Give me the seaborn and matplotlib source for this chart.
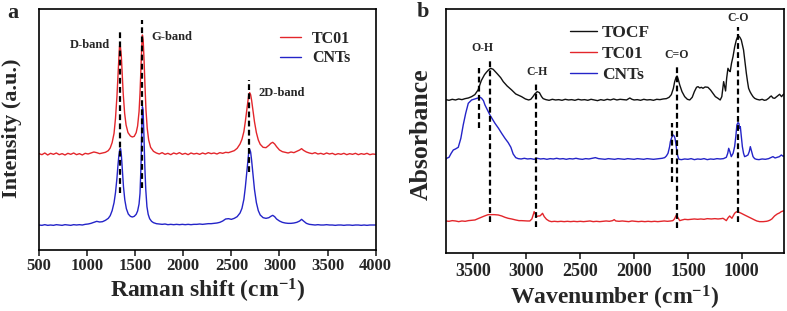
import matplotlib
matplotlib.use("Agg")
import matplotlib.pyplot as plt
import pandas as pd
import seaborn as sns

# ---------------- data : panel a (Raman) ----------------
raman_tc01 = [(500,289),(530,286),(560,291),(590,285),(620,290),(650,287),(680,291),(710,286),(740,289),(770,285),
 (800,290),(830,287),(860,291),(890,286),(920,289),(950,285),(980,290),(1010,288),(1040,291),(1070,294),(1100,292),
 (1130,289),(1160,291),(1190,293),(1220,298),(1240,306),(1260,322),(1280,350),(1295,395),(1310,460),(1320,520),
 (1330,575),(1337,612),(1345,612),(1355,585),(1365,530),(1375,470),(1390,410),(1405,375),(1425,352),(1450,342),
 (1470,339),(1490,341),(1510,352),(1525,372),(1540,415),(1550,470),(1560,545),(1568,610),(1575,645),(1583,630),
 (1592,570),(1602,490),(1612,420),(1625,365),(1640,330),(1660,308),(1690,296),(1720,291),(1750,288),(1780,292),
 (1810,287),(1840,290),(1870,286),(1900,291),(1930,288),(1960,292),(1990,287),(2020,290),(2050,286),(2080,291),
 (2110,288),(2140,290),(2170,287),(2200,291),(2230,288),(2260,292),(2290,289),(2320,291),(2350,288),(2380,292),
 (2410,290),(2440,293),(2470,292),(2500,295),(2530,298),(2560,305),(2590,318),(2610,332),(2630,355),(2645,385),
 (2660,420),(2670,445),(2680,465),(2690,472),(2700,466),(2710,450),(2725,418),(2740,385),(2760,352),(2780,330),
 (2800,317),(2830,308),(2860,307),(2890,314),(2910,320),(2930,323),(2950,318),(2970,310),(3000,300),(3030,295),
 (3060,293),(3090,291),(3120,294),(3150,292),(3180,296),(3210,300),(3230,304),(3250,299),(3280,294),(3310,291),
 (3340,289),(3370,292),(3400,288),(3430,290),(3460,287),(3490,291),(3520,288),(3550,290),(3580,286),(3610,289),
 (3640,287),(3670,290),(3700,286),(3730,289),(3760,287),(3790,290),(3820,286),(3850,289),(3880,287),(3910,290),
 (3940,286),(3970,288),(4000,287)]

raman_cnts = [(500,75),(530,74),(560,76),(590,74),(620,75),(650,74),(680,76),(710,75),(740,74),(770,76),(800,75),
 (830,74),(860,76),(890,75),(920,76),(950,75),(980,77),(1010,78),(1040,80),(1070,83),(1100,86),(1130,84),(1160,85),
 (1190,89),(1220,95),(1240,103),(1260,118),(1280,142),(1295,172),(1310,215),(1320,252),(1330,283),(1340,302),
 (1348,304),(1356,285),(1366,240),(1378,190),(1392,150),(1408,124),(1428,108),(1450,101),(1470,99),(1490,101),
 (1510,107),(1525,117),(1540,138),(1550,170),(1560,250),(1568,360),(1575,430),(1582,420),(1590,350),(1600,250),
 (1610,180),(1622,130),(1635,107),(1650,94),(1670,86),(1690,82),(1720,79),(1750,78),(1780,77),(1810,78),(1840,76),
 (1870,77),(1900,76),(1930,77),(1960,76),(1990,77),(2020,76),(2050,77),(2080,76),(2110,77),(2140,77),(2170,78),
 (2200,77),(2230,78),(2260,79),(2290,79),(2320,80),(2350,81),(2380,83),(2410,87),(2440,93),(2470,94),(2500,92),
 (2530,95),(2560,100),(2590,111),(2610,125),(2630,152),(2645,188),(2660,232),(2670,264),(2680,292),(2690,302),
 (2700,294),(2710,270),(2725,227),(2740,182),(2760,142),(2780,118),(2800,105),(2830,97),(2860,95),(2890,97),
 (2910,101),(2930,104),(2950,100),(2970,93),(3000,87),(3030,83),(3060,81),(3090,80),(3120,80),(3150,81),(3180,83),
 (3210,87),(3230,92),(3250,87),(3280,80),(3310,77),(3340,76),(3370,75),(3400,76),(3430,75),(3460,75),(3490,76),
 (3520,75),(3550,75),(3580,74),(3610,75),(3640,75),(3670,74),(3700,75),(3730,75),(3760,74),(3790,75),(3820,75),
 (3850,74),(3880,75),(3910,74),(3940,75),(3970,75),(4000,75)]

raman_peak_pos = [1340, 1575, 2685]
raman_peak_lo = [172, 185, 235]
raman_peak_hi = [658, 690, 510]
raman_labels = ["D-band", "G-band", "2D-band"]
raman_label_x = [1030, 1876, 3023]
raman_label_y = [615, 638, 472]
raman_ticks = [500, 1000, 1500, 2000, 2500, 3000, 3500, 4000]

# ---------------- data : panel b (FTIR) ----------------
ftir_tocf = [(3750,461),(3720,459),(3690,462),(3660,460),(3630,463),(3600,461),(3570,464),(3540,466),(3510,470),
 (3480,476),(3450,490),(3420,518),(3390,536),(3370,544),(3350,551),(3333,555),(3310,552),(3290,545),(3270,538),
 (3240,527),(3216,515),(3180,502),(3138,490),(3100,478),(3046,470),(3010,463),(2980,460),(2960,462),(2940,470),
 (2923,478),(2900,485),(2880,482),(2860,470),(2845,464),(2820,461),(2790,459),(2760,462),(2730,460),(2700,461),
 (2670,459),(2640,462),(2610,460),(2580,461),(2550,459),(2520,462),(2490,460),(2460,461),(2430,459),(2400,462),
 (2370,460),(2340,458),(2310,461),(2280,459),(2250,462),(2220,460),(2190,463),(2160,460),(2130,462),(2100,461),
 (2070,460),(2040,466),(2020,462),(2000,460),(1970,461),(1940,459),(1910,462),(1880,460),(1850,461),(1820,459),
 (1790,462),(1760,461),(1730,463),(1700,464),(1675,468),(1654,476),(1635,495),(1623,515),(1610,528),(1601,532),
 (1590,522),(1576,505),(1555,485),(1530,470),(1505,462),(1483,460),(1460,468),(1440,485),(1420,498),(1406,500),
 (1390,496),(1375,498),(1360,495),(1340,499),(1314,498),(1290,490),(1267,480),(1245,470),(1221,465),(1200,460),
 (1185,470),(1168,515),(1158,500),(1150,487),(1140,525),(1128,555),(1117,548),(1107,545),(1095,570),(1081,590),
 (1065,620),(1050,640),(1040,648),(1029,652),(1017,648),(1004,640),(993,625),(983,610),(970,575),(957,540),
 (946,515),(936,495),(923,485),(911,478),(895,470),(880,465),(860,462),(834,460),(810,462),(790,459),(772,460),
 (750,465),(735,470),(725,472),(710,466),(694,465),(675,470),(660,474),(648,477),(630,470),(615,476),(607,478)]

ftir_tc01 = [(3750,97),(3720,96),(3690,98),(3660,97),(3630,95),(3600,97),(3570,96),(3540,98),(3510,99),(3479,100),
 (3450,104),(3420,108),(3390,112),(3356,116),(3330,116),(3300,116),(3263,115),(3230,112),(3200,108),(3170,105),
 (3138,103),(3100,100),(3070,98),(3046,98),(2990,97),(2969,97),(2950,103),(2935,118),(2929,125),(2918,118),
 (2907,110),(2890,112),(2876,112),(2862,116),(2851,120),(2835,110),(2814,102),(2790,97),(2768,95),(2740,96),
 (2710,95),(2680,96),(2650,95),(2620,96),(2590,95),(2560,96),(2530,95),(2500,96),(2470,95),(2440,96),(2410,97),
 (2380,95),(2350,96),(2320,95),(2290,96),(2260,97),(2230,96),(2200,98),(2185,101),(2170,97),(2140,96),(2110,97),
 (2080,96),(2050,95),(2020,97),(1990,96),(1960,95),(1930,96),(1900,95),(1870,96),(1840,95),(1810,96),(1780,95),
 (1750,96),(1720,97),(1690,96),(1660,97),(1640,98),(1625,103),(1615,110),(1607,115),(1595,108),(1576,98),
 (1555,100),(1530,102),(1500,101),(1470,102),(1440,103),(1410,102),(1380,103),(1350,102),(1320,104),(1282,103),
 (1250,104),(1220,103),(1190,104),(1174,105),(1160,102),(1143,98),(1128,106),(1112,112),(1100,108),(1091,105),
 (1078,113),(1066,120),(1052,124),(1041,125),(1025,123),(1004,120),(980,116),(955,112),(930,108),(911,105),
 (880,100),(860,97),(834,95),(800,95),(770,96),(757,97),(740,99),(720,103),(695,112),(670,118),(650,121),
 (632,125),(615,127),(607,128)]

ftir_cnts = [(3750,282),(3742,285),(3720,288),(3700,300),(3680,310),(3660,313),(3634,318),(3610,345),(3588,385),
 (3565,420),(3541,450),(3510,460),(3479,463),(3450,466),(3430,468),(3417,465),(3400,458),(3386,445),(3360,428),
 (3340,415),(3315,402),(3293,390),(3260,375),(3231,360),(3200,345),(3170,332),(3145,318),(3124,298),(3100,287),
 (3077,284),(3050,283),(3020,285),(2990,283),(2960,284),(2930,282),(2900,285),(2870,283),(2840,284),(2810,282),
 (2780,284),(2750,283),(2720,285),(2690,283),(2660,284),(2630,282),(2600,284),(2570,283),(2540,285),(2510,283),
 (2480,282),(2450,284),(2420,283),(2390,285),(2360,287),(2330,284),(2300,283),(2270,282),(2240,284),(2210,283),
 (2180,282),(2150,284),(2120,283),(2090,282),(2060,284),(2030,283),(2000,282),(1970,284),(1940,283),(1910,282),
 (1880,284),(1850,283),(1820,282),(1790,283),(1760,284),(1740,285),(1716,287),(1700,292),(1685,300),(1670,320),
 (1663,335),(1650,348),(1638,355),(1628,352),(1620,345),(1610,325),(1601,300),(1590,288),(1583,282),(1560,281),
 (1530,283),(1500,282),(1470,284),(1440,281),(1410,283),(1380,282),(1350,284),(1320,281),(1290,283),(1260,282),
 (1230,284),(1200,283),(1170,284),(1143,288),(1130,300),(1121,315),(1110,305),(1097,290),(1080,300),(1066,320),
 (1055,350),(1045,385),(1035,392),(1026,390),(1020,375),(1013,380),(1004,350),(994,320),(983,300),(973,290),
 (958,292),(942,295),(930,305),(920,320),(908,305),(895,290),(880,284),(864,282),(840,281),(810,283),(780,282),
 (750,284),(730,287),(710,290),(690,286),(670,288),(650,290),(632,295),(615,291),(607,293)]

ftir_peak_pos = [3445, 3336, 2913, 1647, 1601, 1030]
ftir_peak_lo = [375, 95, 80, 215, 75, 95]
ftir_peak_hi = [555, 580, 515, 390, 565, 680]
ftir_labels = ["O-H", "C-H", "C=O", "C-O"]
ftir_label_x = [3408, 2906, 1601, 1035]
ftir_label_y = [615, 545, 595, 705]
ftir_ticks = [3500, 3000, 2500, 2000, 1500, 1000]

# ---------------- styling ----------------
sns.set_style("white")
plt.rcParams["font.family"] = ["Liberation Serif", "DejaVu Serif"]
plt.rcParams["font.weight"] = "bold"
plt.rcParams["mathtext.fontset"] = "custom"
plt.rcParams["mathtext.rm"] = "Liberation Serif:bold"
plt.rcParams["mathtext.bf"] = "Liberation Serif:bold"
plt.rcParams["mathtext.it"] = "Liberation Serif:bold"

RED = "#e3262b"
BLUE = "#2424c8"
BLACK = "#111111"

fig = plt.figure(figsize=(7.87, 3.11), dpi=100)
axa = fig.add_axes([0.0496, 0.1961, 0.4277, 0.7740])
axb = fig.add_axes([0.5663, 0.1855, 0.4299, 0.7846])

def frame(pairs):
    return pd.DataFrame(pairs, columns=["x", "y"])

# panel a
for pairs, col, lab in [(raman_tc01, RED, "TC01"), (raman_cnts, BLUE, "CNTs")]:
    d = frame(pairs)
    sns.lineplot(data=d, x="x", y="y", ax=axa, color=col, lw=1.0, label=lab,
                 estimator=None, sort=False)
axa.vlines(raman_peak_pos, raman_peak_lo, raman_peak_hi, colors="k",
           linestyles=(0, (2.6, 1.5)), lw=1.6, zorder=5)
for t, x, y in zip(raman_labels, raman_label_x, raman_label_y):
    axa.text(x, y, t, ha="center", va="center", fontsize=9, fontweight="bold")
axa.set_xlim(500, 4000)
axa.set_ylim(0, 722)
axa.set_xticks(raman_ticks)
axa.set_yticks([])
axa.set_xlabel(r"Raman shift (cm$^{\mathbf{-1}}$)", fontsize=17, fontweight="bold", labelpad=2)
axa.set_ylabel("Intensity (a.u.)", fontsize=16, fontweight="bold")
axa.yaxis.set_label_coords(-0.05, 0.507)
axa.tick_params(axis="x", direction="out", length=4, width=1.2, labelsize=12, pad=2, bottom=True)
axa.legend(loc="upper left", bbox_to_anchor=(280/787, 1-31/311), bbox_transform=fig.transFigure,
           frameon=False, fontsize=11.5, handlelength=1.3, handletextpad=0.7, labelspacing=0.2,
           borderpad=0, borderaxespad=0)

# panel b
for pairs, col, lab in [(ftir_tocf, BLACK, "TOCF"), (ftir_tc01, RED, "TC01"), (ftir_cnts, BLUE, "CNTs")]:
    d = frame(pairs)
    sns.lineplot(data=d, x="x", y="y", ax=axb, color=col, lw=1.0, label=lab,
                 estimator=None, sort=False)
axb.vlines(ftir_peak_pos, ftir_peak_lo, ftir_peak_hi, colors="k",
           linestyles=(0, (2.6, 1.5)), lw=1.6, zorder=5)
for t, x, y in zip(ftir_labels, ftir_label_x, ftir_label_y):
    axb.text(x, y, t, ha="center", va="center", fontsize=8.5, fontweight="bold")
axb.set_xlim(3751, 607)
axb.set_ylim(0, 732)
axb.set_xticks(ftir_ticks)
axb.set_yticks([])
axb.set_xlabel(r"Wavenumber (cm$^{\mathbf{-1}}$)", fontsize=17, fontweight="bold", labelpad=3)
axb.set_ylabel("Absorbance", fontsize=18.5, fontweight="bold")
axb.yaxis.set_label_coords(-0.037, 0.489)
axb.tick_params(axis="x", direction="out", length=4, width=1.2, labelsize=13, pad=3, bottom=True)
axb.legend(loc="upper left", bbox_to_anchor=(570/787, 1-25/311), bbox_transform=fig.transFigure,
           frameon=False, fontsize=12.5, handlelength=1.55, handletextpad=0.3, labelspacing=0.28,
           borderpad=0, borderaxespad=0)

for ax in (axa, axb):
    for s in ax.spines.values():
        s.set_visible(True)
        s.set_color("black")
        s.set_linewidth(1.2)

fig.text(13/787, 1-13/311, "a", fontsize=16, fontweight="bold", ha="center", va="center")
fig.text(423/787, 1-12/311, "b", fontsize=16, fontweight="bold", ha="center", va="center")

fig.savefig("out.png", dpi=100)
